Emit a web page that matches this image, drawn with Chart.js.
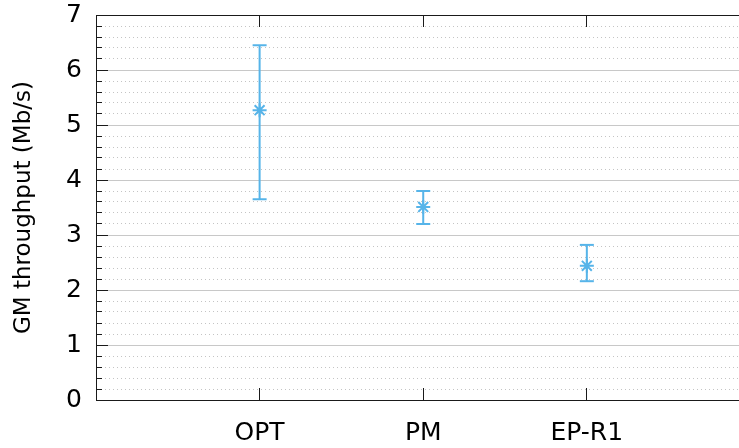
<!DOCTYPE html>
<html>
<head>
<meta charset="utf-8">
<script src="https://cdn.jsdelivr.net/npm/chart.js@4"></script>
<style>
  html, body { margin: 0; padding: 0; background: #fff; overflow: hidden; }
  #wrap { width: 739px; height: 448px; }
</style>
</head>
<body>
<div id="wrap"><canvas id="gmChart" width="739" height="448"></canvas></div>
<script>
// data
const categories = ['OPT', 'PM', 'EP-R1'];
const meanThroughput = [5.27, 3.51, 2.44];
const lowThroughput = [3.65, 3.20, 2.16];
const highThroughput = [6.45, 3.80, 2.82];
const yMajorTicks = [0, 1, 2, 3, 4, 5, 6, 7];

const blue = '#56b4e9';
const frame = '#1a1a1a';
const majorGrid = '#c8c8c8';
const minorDot = '#c4c4c4';

// error bars as line segments, separated by gaps
const barPoints = [];
categories.forEach((c, i) => {
  barPoints.push({ x: i + 1, y: lowThroughput[i] });
  barPoints.push({ x: i + 1, y: highThroughput[i] });
  barPoints.push({ x: i + 1, y: null });
});
const meanPoints = categories.map((c, i) => ({ x: i + 1, y: meanThroughput[i] }));

// 1px high patterns for the y grid: dark tick stub on the left, then grid
const patternCache = {};
function rowPattern(chart, major) {
  const area = chart.chartArea;
  const key = (major ? 'M' : 'm') + Math.round(area.left);
  if (patternCache[key]) return patternCache[key];
  const w = chart.canvas.width;
  const c = document.createElement('canvas');
  c.width = w; c.height = 1;
  const g = c.getContext('2d');
  const left = Math.round(area.left);
  const stub = major ? 12 : 6;
  g.fillStyle = frame;
  g.fillRect(left, 0, stub, 1);
  if (major) {
    g.fillStyle = majorGrid;
    g.fillRect(left + stub, 0, w - left - stub, 1);
  } else {
    g.fillStyle = minorDot;
    for (let x = left + 9; x < w; x += 4) g.fillRect(x, 0, 1, 1);
  }
  patternCache[key] = chart.ctx.createPattern(c, 'repeat');
  return patternCache[key];
}

function yGridColor(ctx) {
  const chart = ctx.chart;
  if (!chart.chartArea || !ctx.tick) return majorGrid;
  const v = ctx.tick.value;
  const major = Math.abs(v - Math.round(v)) < 1e-6;
  return rowPattern(chart, major);
}

// vertical x ticks pointing inwards, at top and bottom of the frame
function xGridColor(ctx) {
  const chart = ctx.chart;
  const area = chart.chartArea;
  if (!area) return frame;
  const h = area.bottom - area.top;
  const s = 12 / h;
  const g = chart.ctx.createLinearGradient(0, area.top, 0, area.bottom);
  g.addColorStop(0, frame);
  g.addColorStop(s, frame);
  g.addColorStop(s, 'rgba(0,0,0,0)');
  g.addColorStop(1 - s, 'rgba(0,0,0,0)');
  g.addColorStop(1 - s, frame);
  g.addColorStop(1, frame);
  return g;
}

function noPad(scale) {
  scale.paddingLeft = 0;
  scale.paddingRight = 0;
  scale.paddingTop = 0;
  scale.paddingBottom = 0;
}

const tickFont = { family: 'DejaVu Sans', size: 25 };

new Chart(document.getElementById('gmChart'), {
  type: 'scatter',
  data: {
    datasets: [
      {
        type: 'line',
        data: barPoints,
        borderColor: blue,
        borderWidth: 2,
        spanGaps: false,
        pointStyle: 'line',
        pointRadius: 7,
        pointBorderWidth: 2,
        pointBorderColor: blue,
        pointBackgroundColor: blue,
        fill: false
      },
      {
        data: meanPoints,
        pointStyle: 'star',
        pointRadius: 7,
        pointBorderWidth: 2,
        pointBorderColor: blue,
        pointBackgroundColor: blue
      }
    ]
  },
  options: {
    responsive: false,
    animation: false,
    events: [],
    layout: { padding: 0, autoPadding: false },
    plugins: {
      legend: { display: false },
      tooltip: { enabled: false }
    },
    scales: {
      x: {
        type: 'linear',
        position: 'bottom',
        min: 0,
        max: 3.93,
        afterBuildTicks: (scale) => {
          scale.ticks = categories.map((c, i) => ({ value: i + 1 }));
        },
        afterFit: (scale) => { scale.height = 48; noPad(scale); },
        ticks: {
          autoSkip: false,
          maxRotation: 0,
          padding: 18,
          color: '#000',
          font: tickFont,
          callback: (v) => categories[Math.round(v) - 1] || ''
        },
        grid: { drawTicks: false, color: xGridColor, lineWidth: 1 },
        border: { display: true, color: frame, width: 1 }
      },
      xTop: {
        type: 'linear',
        position: 'top',
        min: 0,
        max: 3.93,
        afterFit: (scale) => { scale.height = 15; noPad(scale); },
        ticks: { display: false },
        grid: { display: false, drawTicks: false },
        border: { display: true, color: frame, width: 1 }
      },
      y: {
        min: 0,
        max: 7,
        afterFit: (scale) => { scale.width = 96; noPad(scale); },
        ticks: {
          stepSize: 0.2,
          maxTicksLimit: 100,
          autoSkip: false,
          padding: 14,
          color: '#000',
          font: tickFont,
          callback: (v) => yMajorTicks.includes(Math.round(v * 1000) / 1000) ? String(Math.round(v)) : ''
        },
        grid: { drawTicks: false, color: yGridColor, lineWidth: 1 },
        border: { display: true, color: frame, width: 1 },
        title: {
          display: true,
          text: 'GM throughput (Mb/s)',
          color: '#000',
          font: { family: 'DejaVu Sans', size: 23 },
          padding: { top: 10, bottom: 0 }
        }
      }
    }
  }
});
</script>
</body>
</html>
